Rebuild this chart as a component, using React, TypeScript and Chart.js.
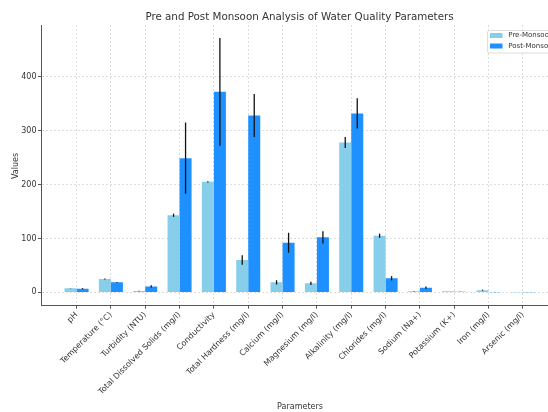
import React, { useEffect, useRef } from 'react';
import { Chart, registerables } from 'chart.js';

Chart.register(...registerables);

const categories = [
  'pH',
  'Temperature (°C)',
  'Turbidity (NTU)',
  'Total Dissolved Solids (mg/l)',
  'Conductivity',
  'Total Hardness (mg/l)',
  'Calcium (mg/l)',
  'Magnesium (mg/l)',
  'Alkalinity (mg/l)',
  'Chlorides (mg/l)',
  'Sodium (Na+)',
  'Potassium (K+)',
  'Iron (mg/l)',
  'Arsenic (mg/l)',
];
const preMonsoon = [7.5, 24.7, 2.5, 143, 205, 60, 18.5, 16.7, 278, 105, 2, 2, 4, 0.01];
const preErr = [0.3, 1, 0.3, 3, 1, 9, 4, 3, 10, 4, 0.3, 0.2, 1, 0];
const postMonsoon = [6.8, 18.5, 11, 249, 372, 328, 92, 102, 332, 26, 8.6, 1, 0.2, 0.005];
const postErr = [1, 0.5, 2, 66, 100, 40, 18.5, 11.5, 28, 4, 2, 0.2, 0.1, 0];
const yTicks = [0, 100, 200, 300, 400];

const seriesNames = ['Pre-Monsoon', 'Post-Monsoon'];
const seriesColors = ['#87CEEB', '#1E90FF'];
const errors = [preErr, postErr];

const FONT = "'DejaVu Sans', sans-serif";

const errorBarPlugin = {
  id: 'errorBars',
  afterDatasetsDraw(chart: any) {
    const ctx = chart.ctx;
    const yScale = chart.scales.y;
    ctx.save();
    ctx.strokeStyle = '#111';
    ctx.lineWidth = 1.3;
    chart.data.datasets.forEach((ds: any, di: number) => {
      const meta = chart.getDatasetMeta(di);
      meta.data.forEach((el: any, j: number) => {
        const err = errors[di][j];
        if (!err) return;
        const v = ds.data[j].y;
        const y1 = yScale.getPixelForValue(v + err);
        const y2 = yScale.getPixelForValue(v - err);
        ctx.beginPath();
        ctx.moveTo(el.x, y1);
        ctx.lineTo(el.x, y2);
        ctx.stroke();
      });
    });
    ctx.restore();
  },
};

const textPlugin = {
  id: 'texts',
  afterDraw(chart: any) {
    const ctx = chart.ctx;
    ctx.save();
    ctx.fillStyle = '#333';
    ctx.font = `10.3px ${FONT}`;
    ctx.textAlign = 'center';
    ctx.textBaseline = 'middle';
    ctx.fillText('Pre and Post Monsoon Analysis of Water Quality Parameters', 299.5, 17);
    ctx.font = `8px ${FONT}`;
    ctx.fillText('Parameters', 300, 406.5);
    ctx.save();
    ctx.translate(16, 166);
    ctx.rotate(-Math.PI / 2);
    ctx.fillText('Values', 0, 0);
    ctx.restore();
    // legend
    ctx.fillStyle = 'rgba(255,255,255,0.85)';
    ctx.strokeStyle = '#ddd';
    ctx.lineWidth = 1;
    ctx.beginPath();
    ctx.roundRect(487.5, 30.5, 80, 22.5, 2);
    ctx.fill();
    ctx.stroke();
    ctx.font = `7px ${FONT}`;
    ctx.textAlign = 'left';
    seriesNames.forEach((name, i) => {
      const y = 33 + i * 10.5;
      ctx.fillStyle = seriesColors[i];
      ctx.fillRect(490, y, 12.5, 5);
      ctx.fillStyle = '#333';
      ctx.fillText(name, 508.3, y + 2.6);
    });
    ctx.restore();
  },
};

export default function App() {
  const ref = useRef<HTMLCanvasElement>(null);
  useEffect(() => {
    document.body.style.margin = '0';
    const canvas = ref.current!;
    const chart = new Chart(canvas, {
      type: 'bar',
      data: {
        datasets: seriesNames.map((name, i) => ({
          label: name,
          data: (i === 0 ? preMonsoon : postMonsoon).map((v, k) => ({ x: k, y: v })),
          backgroundColor: seriesColors[i],
          borderWidth: 0,
          categoryPercentage: 0.7,
          barPercentage: 1.0,
        })),
      },
      options: {
        responsive: false,
        animation: false,
        devicePixelRatio: 1,
        layout: { padding: { top: 25, right: 0, left: 0, bottom: 0 } },
        plugins: {
          legend: { display: false },
          title: { display: false },
          tooltip: { enabled: false },
        },
        scales: {
          x: {
            type: 'linear',
            offset: false,
            min: -1.035,
            max: 13.73,
            afterBuildTicks: (s: any) => {
              s.ticks = categories.map((_, i) => ({ value: i }));
            },
            afterFit: (s: any) => {
              s.height = 106.3;
            },
            ticks: {
              callback: (v: any) => categories[Math.round(v)] ?? '',
              minRotation: 45,
              maxRotation: 45,
              autoSkip: false,
              font: { size: 8, family: FONT },
              color: '#333',
              padding: 1.5,
            },
            grid: {
              offset: false,
              color: '#d4d4d4',
              lineWidth: 0.8,
              drawTicks: true,
              tickLength: 3,
              tickColor: '#555',
              tickWidth: 1,
            },
            border: { color: '#555', width: 1, dash: [2, 2] },
          },
          y: {
            min: -24.8,
            max: 496,
            afterBuildTicks: (s: any) => {
              s.ticks = yTicks.map((v) => ({ value: v }));
            },
            afterFit: (s: any) => {
              s.width = 41;
            },
            ticks: {
              font: { size: 8, family: FONT },
              color: '#333',
              padding: 1.5,
            },
            grid: {
              color: '#d4d4d4',
              lineWidth: 0.8,
              drawTicks: true,
              tickLength: 3,
              tickColor: '#555',
              tickWidth: 1,
            },
            border: { color: '#555', width: 1, dash: [2, 2] },
          },
        },
      } as any,
      plugins: [errorBarPlugin, textPlugin],
    });
    return () => chart.destroy();
  }, []);
  return (
    <canvas
      ref={ref}
      width={548}
      height={412}
      style={{ display: 'block', width: 548, height: 412 }}
    />
  );
}
